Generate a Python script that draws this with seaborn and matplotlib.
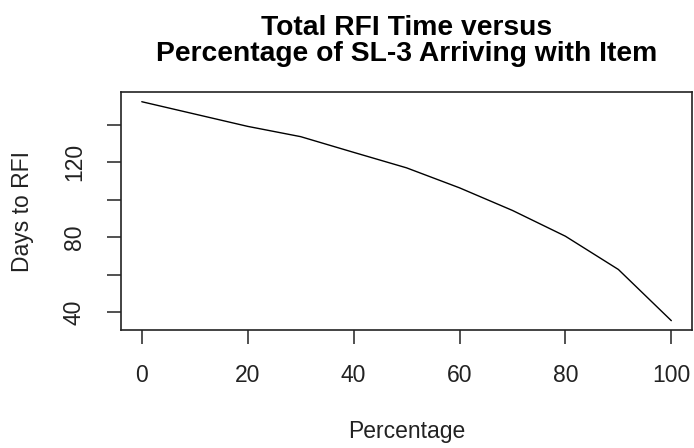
import matplotlib
matplotlib.use("Agg")
import matplotlib.pyplot as plt
import seaborn as sns
import pandas as pd

# Share of SL-3 arriving with the item (%) and resulting total RFI time (days)
percentage = [0, 10, 20, 30, 40, 50, 60, 70, 80, 90, 100]
days_to_rfi = [152.5, 145.9, 139.3, 133.8, 125.4, 117.1, 106.4, 94.3, 80.5, 62.7, 35.3]

x_ticks = [0, 20, 40, 60, 80, 100]
y_ticks = [40, 60, 80, 100, 120, 140]
y_tick_labels = ["40", "", "80", "", "120", ""]

df = pd.DataFrame({"Percentage": percentage, "Days to RFI": days_to_rfi})

sns.set_style("white")
plt.rcParams["font.family"] = ["Liberation Sans", "DejaVu Sans"]

fig = plt.figure(figsize=(6.94, 4.48), dpi=100)
ax = fig.add_axes([120.6 / 694, 1 - 330 / 448, (692.5 - 120.6) / 694, (330 - 92) / 448])

sns.lineplot(data=df, x="Percentage", y="Days to RFI", ax=ax,
             color="black", linewidth=1.0)

ax.set_xlim(-4, 104)
ax.set_ylim(30.3, 157.7)
ax.set_xticks(x_ticks)
ax.set_xticklabels([str(v) for v in x_ticks])
ax.set_yticks(y_ticks)
ax.set_yticklabels(y_tick_labels, rotation=90, va="center")

for s in ax.spines.values():
    s.set_visible(True)
    s.set_color("#222222")
    s.set_linewidth(1.2)

ax.tick_params(axis="both", which="major", bottom=True, left=True,
               direction="out", length=10, width=1.1,
               color="#222222", labelsize=16.5, labelcolor="#222222")
ax.tick_params(axis="x", pad=14.5)
ax.tick_params(axis="y", pad=15)

ax.set_xlabel("Percentage", fontsize=16.5, color="#222222", labelpad=24)
ax.set_ylabel("Days to RFI", fontsize=16.5, color="#222222", labelpad=21)

fig.text(406.5 / 694, 1 - 41 / 448,
         "Total RFI Time versus\nPercentage of SL-3 Arriving with Item",
         ha="center", va="center", fontsize=20.3, fontweight="bold",
         linespacing=1.0, color="black")

fig.savefig("out.png", dpi=100, facecolor="white")
